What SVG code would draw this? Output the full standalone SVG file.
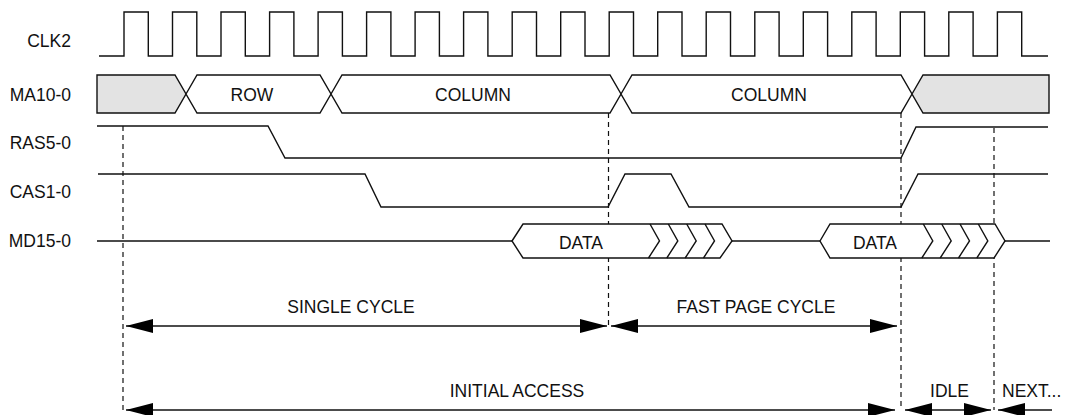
<svg xmlns="http://www.w3.org/2000/svg" width="1065" height="415" viewBox="0 0 1065 415">
<style>
text{font-family:"Liberation Sans",Arial,sans-serif;font-size:17.5px;fill:#111}
.lbl{text-anchor:end}
.c{text-anchor:middle}
.sig{fill:none;stroke:#111;stroke-width:1.4;stroke-linejoin:miter}
.bus{fill:#fff;stroke:#111;stroke-width:1.4}
.gray{fill:#e3e3e3;stroke:#111;stroke-width:1.4}
.dash{fill:none;stroke:#111;stroke-width:1.2;stroke-dasharray:5,4}
.dim{fill:none;stroke:#111;stroke-width:1.3}
</style>
<defs>
<marker id="ah" markerUnits="userSpaceOnUse" markerWidth="28" markerHeight="14" refX="27" refY="7" orient="auto-start-reverse">
<path d="M0,0 L27,7 L0,14 z" fill="#000"/>
</marker>
</defs>
<g id="labels">
<text class="lbl" x="71" y="47">CLK2</text>
<text class="lbl" x="71" y="101">MA10-0</text>
<text class="lbl" x="71" y="149">RAS5-0</text>
<text class="lbl" x="71" y="198">CAS1-0</text>
<text class="lbl" x="71" y="247">MD15-0</text>
</g>
<g id="connectors">
<path class="dash" d="M123,126 V410"/>
<path class="dash" d="M608.5,113 V328"/>
<path class="dash" d="M901,113 V410"/>
<path class="dash" d="M994,128 V410"/>
<path class="dim" d="M126,326 H607" marker-start="url(#ah)" marker-end="url(#ah)"/>
<path class="dim" d="M611,326 H897" marker-start="url(#ah)" marker-end="url(#ah)"/>
<path class="dim" d="M126,410 H895" marker-start="url(#ah)" marker-end="url(#ah)"/>
<path class="dim" d="M905,410 H991" marker-start="url(#ah)" marker-end="url(#ah)"/>
<path class="dim" d="M998,410 H1052" marker-start="url(#ah)"/>
</g>
<g id="clk2">
<path class="sig" d="M99,56 H124 V12 H148.3 V56 H172.5 V12 H196.8 V56 H221 V12 H245.3 V56 H269.6 V12 H293.9 V56 H318.1 V12 H342.4 V56 H366.6 V12 H390.9 V56 H415.1 V12 H439.4 V56 H463.6 V12 H487.9 V56 H512.2 V12 H536.5 V56 H560.7 V12 H585 V56 H609.2 V12 H633.5 V56 H657.7 V12 H682 V56 H706.2 V12 H730.5 V56 H754.8 V12 H779.1 V56 H803.3 V12 H827.6 V56 H851.8 V12 H876.1 V56 H900.3 V12 H924.6 V56 H948.8 V12 H973.1 V56 H997.4 V12 H1021.7 V56 H1048"/>
</g>
<g id="ma10">
<polygon class="gray" points="97,75 175,75 186,94 175,113 97,113"/>
<polygon class="bus" points="186,94 197,75 320,75 331,94 320,113 197,113"/>
<polygon class="bus" points="331,94 342,75 610,75 621,94 610,113 342,113"/>
<polygon class="bus" points="621,94 632,75 901,75 912,94 901,113 632,113"/>
<polygon class="gray" points="912,94 923,75 1049,75 1049,113 923,113"/>
<text class="c" x="252" y="101">ROW</text>
<text class="c" x="473" y="101">COLUMN</text>
<text class="c" x="769" y="101">COLUMN</text>
</g>
<g id="ras">
<path class="sig" d="M97,126 H268 L285,158 H901 L916,127 H1048"/>
</g>
<g id="cas">
<path class="sig" d="M98,174 H365 L381,207 H608 L625,174 H671 L689,207 H901 L918,174 H1048"/>
</g>
<g id="md15">
<path class="sig" d="M97,241 H512 M732,241 H820 M1005,241 H1050"/>
<polygon class="bus" points="512,241 523,224 722,224 732,241 720,258 523,258"/>
<path class="sig" d="M650,224 L659.5,241 L648.5,258 M668.3,224 L677.8,241 L666.8,258 M686.7,224 L696.2,241 L685.2,258 M705,224 L714.5,241 L703.5,258"/>
<text class="c" x="581" y="249">DATA</text>
<polygon class="bus" points="820,241 830,224 995,224 1005,241 994,258 830,258"/>
<path class="sig" d="M923.3,224 L932.8,241 L921.8,258 M941.7,224 L951.2,241 L940.2,258 M960,224 L969.5,241 L958.5,258 M978.3,224 L987.8,241 L976.8,258"/>
<text class="c" x="875" y="249">DATA</text>
</g>
<g id="annotations">
<text class="c" x="351" y="313">SINGLE CYCLE</text>
<text class="c" x="756" y="313">FAST PAGE CYCLE</text>
<text class="c" x="517" y="397">INITIAL ACCESS</text>
<text class="c" x="949.5" y="397">IDLE</text>
<text x="1002" y="397">NEXT...</text>
</g>
</svg>
